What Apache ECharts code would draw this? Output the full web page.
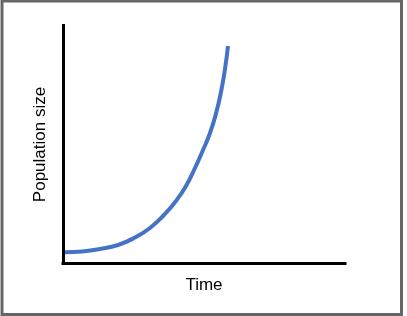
<!DOCTYPE html>
<html>
<head>
<meta charset="utf-8">
<script src="https://cdn.jsdelivr.net/npm/echarts@6/dist/echarts.min.js"></script>
<style>
html,body{margin:0;padding:0;background:#fff;}
#main{width:407px;height:316px;}
</style>
</head>
<body>
<div id="main"></div>
<script>
var timeValues = [0.071, 0.674, 1.312, 1.950, 2.553, 3.085, 3.582, 4.007, 4.362, 4.681, 4.965, 5.213, 5.426, 5.603, 5.745, 5.851];
var populationValues = [4.71, 5.04, 6.09, 7.77, 10.92, 14.92, 20.38, 26.26, 32.56, 40.13, 47.69, 54.83, 63.03, 72.06, 81.72, 91.39];
var xAxisName = 'Time';
var yAxisName = 'Population size';

var points = timeValues.map(function (t, i) { return [t, populationValues[i]]; });

var chart = echarts.init(document.getElementById('main'), null, {renderer: 'canvas'});
chart.setOption({
  animation: false,
  backgroundColor: '#ffffff',
  grid: {left: 63, right: 62, top: 25.5, bottom: 52.5},
  xAxis: {
    type: 'value', min: 0, max: 10,
    name: xAxisName, nameLocation: 'middle', nameGap: 13.5,
    nameTextStyle: {fontFamily: 'Liberation Sans', fontSize: 17, color: '#000', verticalAlign: 'top'},
    axisLine: {show: true, onZero: false, lineStyle: {color: '#000', width: 3, cap: 'square'}},
    axisTick: {show: false}, axisLabel: {show: false}, splitLine: {show: false}
  },
  yAxis: {
    type: 'value', min: 0, max: 100,
    name: yAxisName, nameLocation: 'middle', nameGap: 14,
    nameTextStyle: {fontFamily: 'Liberation Sans', fontSize: 17, color: '#000'},
    axisLine: {show: true, onZero: false, lineStyle: {color: '#000', width: 3, cap: 'square'}},
    axisTick: {show: false}, axisLabel: {show: false}, splitLine: {show: false}
  },
  graphic: [{
    type: 'rect',
    shape: {x: 2, y: 1, width: 399.5, height: 313.5},
    style: {fill: null, stroke: '#666666', lineWidth: 3},
    silent: true
  }],
  series: [{
    type: 'line',
    data: points,
    smooth: true,
    showSymbol: false,
    lineStyle: {color: '#4472c4', width: 4}
  }]
});
</script>
</body>
</html>
